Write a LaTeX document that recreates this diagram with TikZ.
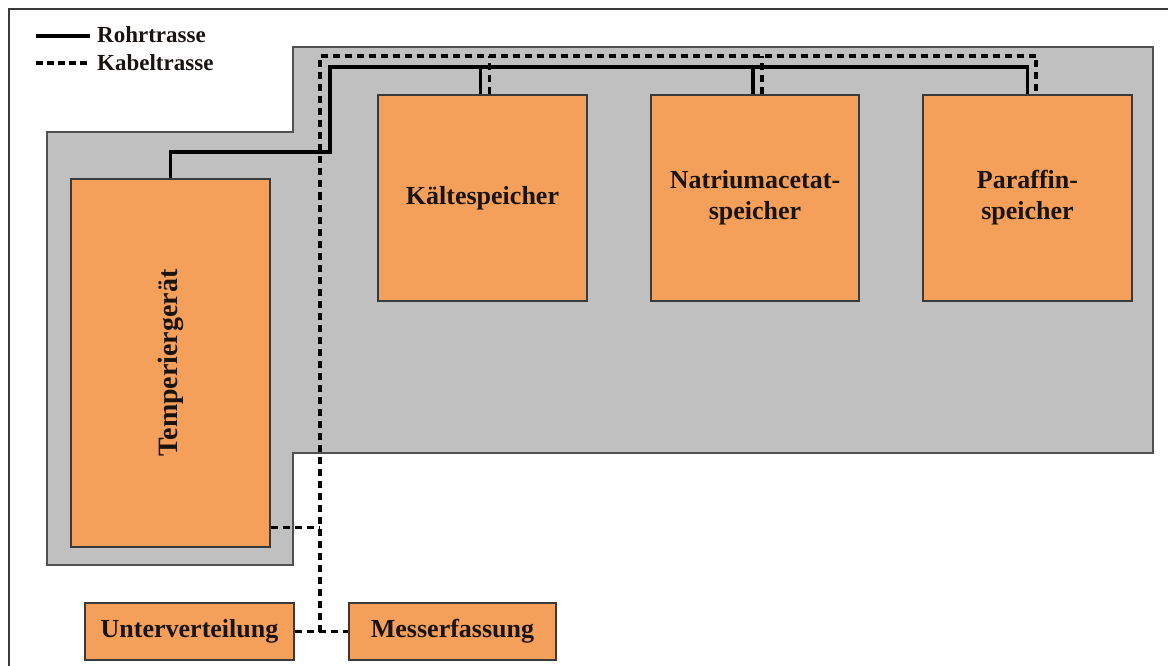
\documentclass[tikz,border=0pt]{standalone}
\usepackage{fontspec}
\setmainfont{Liberation Serif}
\usepackage{graphicx}
\usetikzlibrary{positioning,calc}
\definecolor{ink}{HTML}{1A1410}
\definecolor{rim}{HTML}{3A3A3A}
\definecolor{zone}{HTML}{C0C0C0}
\definecolor{zoneline}{HTML}{505050}
\definecolor{unit}{HTML}{F5A05A}
\definecolor{unitline}{HTML}{3A3A3A}

\begin{document}
\begin{tikzpicture}[
    x=1pt, y=-1pt,
    font=\fontsize{26}{31}\selectfont\bfseries, text=ink,
    unitbox/.style={draw=unitline, fill=unit, line width=1.5pt, align=center, inner sep=0pt},
    pipe/.style={draw=black, line width=3.2pt},
    cable/.style={draw=black, line width=3.4pt, dash pattern=on 7pt off 5pt},
    lgd/.style={font=\fontsize{23}{27}\selectfont\bfseries, anchor=base west, inner sep=0pt},
  ]
  \useasboundingbox (0,0) rectangle (1168,666);
  \clip (0,0) rectangle (1168,666);

  % ---- frame and test area
  \draw[draw=rim, line width=2.5pt] (9,9) rectangle (1190,690);
  \draw[fill=zone, draw=zoneline, line width=1.5pt]
    (47,132) -- (293,132) -- (293,47) -- (1153,47) -- (1153,453)
    -- (293,453) -- (293,565) -- (47,565) -- cycle;

  % ---- legend
  \coordinate (lgp0) at (36,36);
  \coordinate (lgp1) at (90,36);
  \coordinate (lgc0) at (36,63);
  \coordinate (lgc1) at (90,63);
  \draw[pipe] (lgp0) -- (lgp1);
  \draw[cable, dash pattern=on 7pt off 4pt] (lgc0) -- (lgc1);
  \node[lgd] (lgpipe) at (97,43) {Rohrtrasse};
  \node[lgd] (lgcable) at (97,71) {Kabeltrasse};

  % ---- units
  \node[unitbox, minimum width=199pt, minimum height=368pt] (temp) at (170.5,363)
        {\rotatebox{90}{\fontsize{28}{32}\selectfont Temperiergerät}};
  \node[unitbox, minimum width=209pt, minimum height=206pt] (kaelte) at (482.5,198) {Kältespeicher};
  \node[unitbox, minimum width=208pt, minimum height=206pt, right=62.5pt of kaelte] (natrium)
        {Natriumacetat-\\speicher};
  \node[unitbox, minimum width=209pt, minimum height=206pt, right=62.5pt of natrium] (paraffin)
        {Paraffin-\\speicher};
  \node[unitbox, minimum width=209pt, minimum height=57pt] (unterv) at (189.5,631.5) {Unterverteilung};
  \node[unitbox, minimum width=207pt, minimum height=57pt, right=53.5pt of unterv] (messerf) {Messerfassung};

  % ---- pipe route
  \coordinate (prise) at (330,152);
  \coordinate (ptop) at (330,67);
  \draw[pipe] (temp.north) |- (prise) -- (ptop) -| (paraffin.north);
  \draw[pipe] ([xshift=-2pt]kaelte.north) -- ([xshift=-2pt]kaelte.north |- ptop);
  \draw[pipe] ([xshift=-2pt]natrium.north) -- ([xshift=-2pt]natrium.north |- ptop);

  % ---- cable route
  \coordinate (ctop) at (320,56);
  \coordinate (cbot) at (320,631.5);
  \draw[cable] (cbot) -- (ctop) -| ([xshift=8.5pt]paraffin.north);
  \draw[cable] ([xshift=7pt]kaelte.north) -- ([xshift=7pt]kaelte.north |- ctop);
  \draw[cable] ([xshift=7pt]natrium.north) -- ([xshift=7pt]natrium.north |- ctop);
  \draw[cable] ([yshift=20pt]temp.south east) -- ([yshift=20pt]temp.south east -| cbot);
  \draw[cable] (unterv.east) -- (messerf.west);
\end{tikzpicture}
\end{document}
